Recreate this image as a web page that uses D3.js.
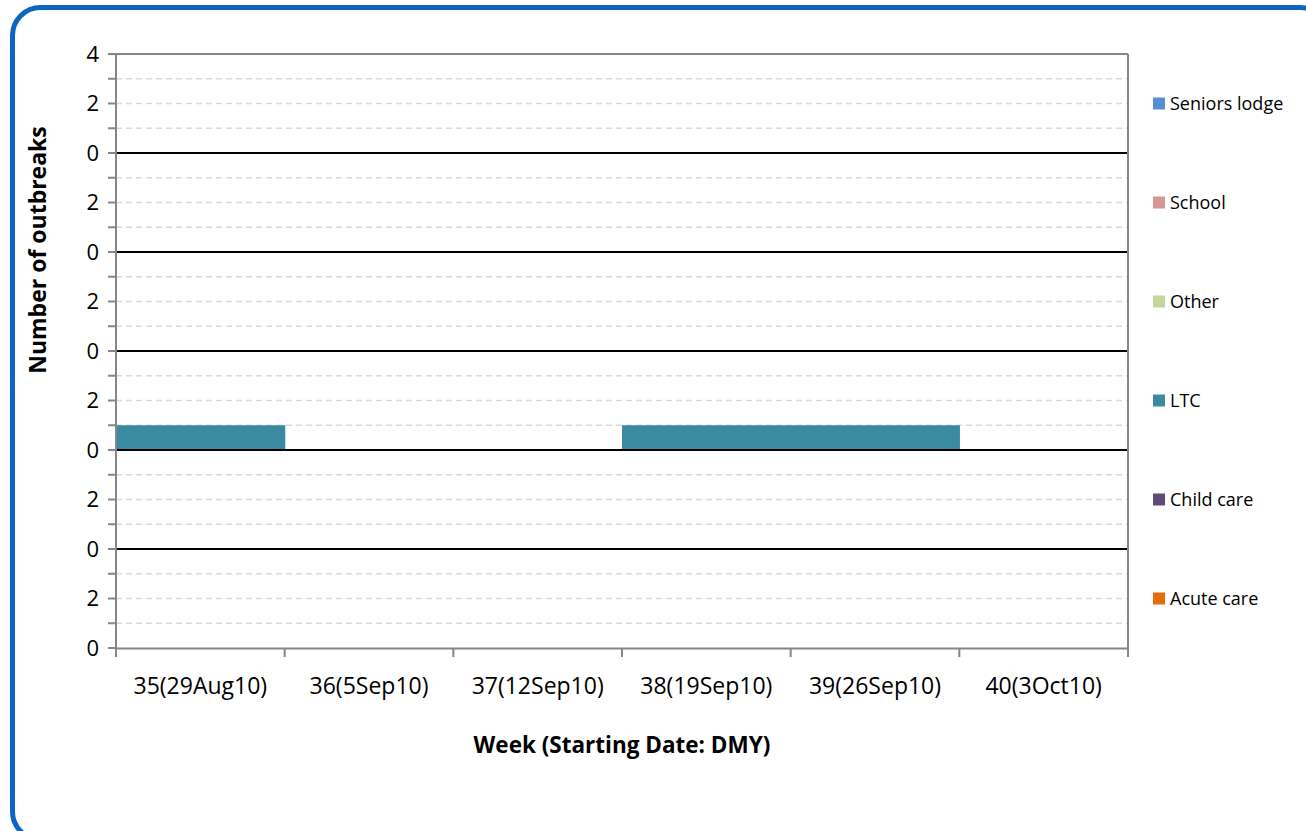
<!DOCTYPE html>
<html><head><meta charset="utf-8">
<script src="https://cdn.jsdelivr.net/npm/d3@7"></script>
<style>
html,body{margin:0;padding:0;background:#fff;}
svg{display:block;font-family:"Open Sans",sans-serif;}
</style></head>
<body><svg id="chart" width="1306" height="831"></svg>
<script>
// ---- data ----
const weeks = ["35(29Aug10)","36(5Sep10)","37(12Sep10)","38(19Sep10)","39(26Sep10)","40(3Oct10)"];
const seriesNames = ["Seniors lodge","School","Other","LTC","Child care","Acute care"]; // top to bottom
const seniorsLodge = [0,0,0,0,0,0];
const school      = [0,0,0,0,0,0];
const other       = [0,0,0,0,0,0];
const ltc         = [1,0,0,1,1,0];
const childCare   = [0,0,0,0,0,0];
const acuteCare   = [0,0,0,0,0,0];
const seriesColors = ["#558ED5","#D99694","#C3D69B","#3A8AA1","#604A7B","#E46C0A"];
const panelTicks = [0,2];
const panelMax = 4;
const xTitle = "Week (Starting Date: DMY)";
const yTitle = "Number of outbreaks";

const seriesValues = [seniorsLodge, school, other, ltc, childCare, acuteCare];

const svg = d3.select("#chart");
const L = 116, R = 1128, T = 54, B = 648;

// frame
svg.append("rect").attr("x",12.5).attr("y",7.5).attr("width",1316).attr("height",832)
  .attr("rx",28).attr("fill","none").attr("stroke","#0A66C2").attr("stroke-width",5);

const x = d3.scaleBand().domain(weeks).range([L,R]).padding(0);
const panel = d3.scaleBand().domain(seriesNames).range([T,B]).padding(0);

const g = svg.append("g");

seriesNames.forEach((name,i)=>{
  const top = panel(name), bot = top + panel.bandwidth();
  const y = d3.scaleLinear().domain([0,panelMax]).range([bot,top]);
  // dashed gridlines at every unit
  g.append("g").selectAll("line").data(d3.range(1,panelMax)).join("line")
    .attr("x1",L).attr("x2",R).attr("y1",d=>y(d)).attr("y2",d=>y(d))
    .attr("stroke","#D9D9D9").attr("stroke-width",1.5).attr("stroke-dasharray","6,4");
  // bars
  g.append("g").selectAll("rect").data(weeks.map((w,j)=>({w,v:seriesValues[i][j]})).filter(d=>d.v>0)).join("rect")
    .attr("x",d=>x(d.w)).attr("width",x.bandwidth()+0.6)
    .attr("y",d=>y(d.v)).attr("height",d=>y(0)-y(d.v))
    .attr("fill",seriesColors[i]);
  // baseline
  if(i < seriesNames.length-1){
    g.append("line").attr("x1",L).attr("x2",R).attr("y1",y(0)).attr("y2",y(0))
      .attr("stroke","#000").attr("stroke-width",2);
  }
  // y axis for the panel
  const ticks = i===0 ? [0,2,4] : panelTicks;
  const ax = d3.axisLeft(y).tickValues(ticks).tickSize(0).tickPadding(17).tickFormat(d3.format("d"));
  const ag = svg.append("g").attr("transform",`translate(${L},0)`).call(ax);
  ag.select(".domain").remove();
  ag.selectAll("text").attr("font-size",22).attr("fill","#000").attr("font-family","Open Sans");
  // tick marks every unit
  svg.append("g").selectAll("line").data(d3.range(0,panelMax)).join("line")
    .attr("x1",L-8).attr("x2",L).attr("y1",d=>y(d)).attr("y2",d=>y(d))
    .attr("stroke","#868686").attr("stroke-width",2);
  // legend
  const ly = top + panel.bandwidth()/2;
  svg.append("rect").attr("x",1153).attr("y",ly-6).attr("width",12).attr("height",12).attr("fill",seriesColors[i]);
  svg.append("text").attr("x",1170).attr("y",ly).attr("dy","0.35em").attr("font-size",18)
    .attr("fill","#000").text(name);
});
// top tick
svg.append("line").attr("x1",L-8).attr("x2",L).attr("y1",T).attr("y2",T).attr("stroke","#868686").attr("stroke-width",2);

// plot border
svg.append("line").attr("x1",L).attr("x2",R).attr("y1",T).attr("y2",T).attr("stroke","#868686").attr("stroke-width",2);
svg.append("line").attr("x1",R).attr("x2",R).attr("y1",T).attr("y2",B).attr("stroke","#868686").attr("stroke-width",2);
svg.append("line").attr("x1",L).attr("x2",L).attr("y1",T).attr("y2",B).attr("stroke","#868686").attr("stroke-width",2);

// x axis
const xa = d3.axisBottom(x).tickSize(0).tickPadding(30);
const xg = svg.append("g").attr("transform",`translate(0,${B})`).call(xa);
xg.select(".domain").attr("stroke","#868686").attr("stroke-width",2);
xg.selectAll("text").attr("font-size",23).attr("fill","#000").attr("font-family","Open Sans");
svg.append("g").selectAll("line").data(d3.range(weeks.length+1)).join("line")
  .attr("x1",d=>L+d*x.step()).attr("x2",d=>L+d*x.step()).attr("y1",B).attr("y2",B+9)
  .attr("stroke","#868686").attr("stroke-width",2);

// titles
svg.append("text").attr("x",(L+R)/2).attr("y",753).attr("text-anchor","middle")
  .attr("font-size",22.5).attr("font-weight","bold").attr("fill","#000").text(xTitle);
svg.append("text").attr("transform","translate(46,250) rotate(-90)").attr("text-anchor","middle")
  .attr("font-size",23).attr("font-weight","bold").attr("fill","#000").text(yTitle);
</script></body></html>
